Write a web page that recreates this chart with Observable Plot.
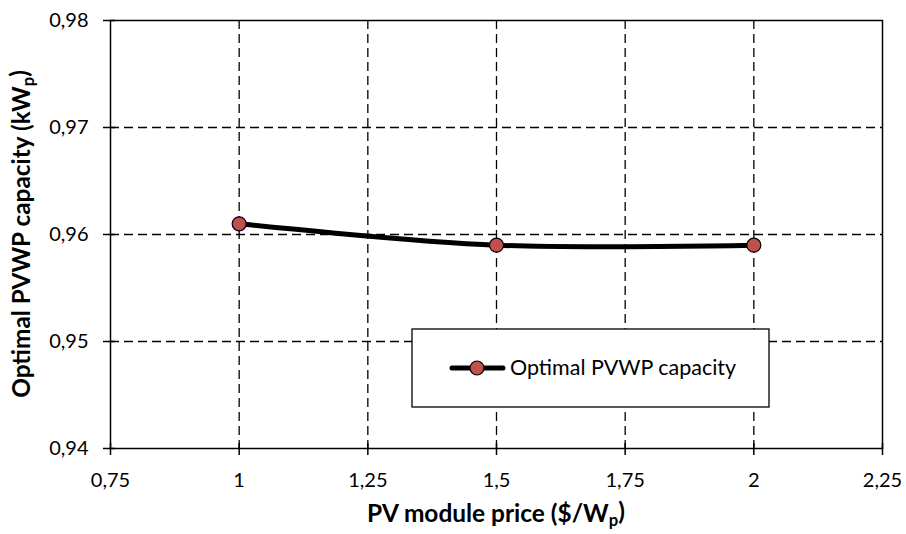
<!DOCTYPE html>
<html><head><meta charset="utf-8">
<script src="https://cdn.jsdelivr.net/npm/d3@7"></script>
<script src="https://cdn.jsdelivr.net/npm/@observablehq/plot@0.6"></script>
<style>
body{margin:0;background:#fff;font-family:Lato,"Open Sans",sans-serif;}
#chart svg{display:block;}
</style>
</head><body><div id="chart"></div>
<script>
const prices = [1, 1.5, 2];
const capacity = [0.961, 0.959, 0.959];
const xTicks = [0.75, 1, 1.25, 1.5, 1.75, 2, 2.25];
const yTicks = [0.94, 0.95, 0.96, 0.97, 0.98];
const seriesName = "Optimal PVWP capacity";
const xTitle = ["PV module price ($/W", "p", ")"];
const yTitle = ["Optimal PVWP capacity (kW", "p", ")"];

const data = prices.map((p, i) => ({x: p, y: capacity[i]}));
const fmt = d => String(d).replace(".", ",");
const innerX = xTicks.slice(1, -1);
const innerY = yTicks.slice(1, -1);

const W = 906, H = 534;
const mL = 110, mR = 24, mT = 20, mB = 86;
const iW = W - mL - mR, iH = H - mT - mB;

const plot = Plot.plot({
  width: W, height: H,
  marginLeft: mL, marginRight: mR, marginTop: mT, marginBottom: mB,
  style: {fontFamily: "Lato, 'Open Sans', sans-serif", fontSize: "20px", color: "#000", background: "#fff"},
  x: {domain: [0.75, 2.25], ticks: xTicks, tickFormat: fmt, label: null},
  y: {domain: [0.94, 0.98], ticks: yTicks, tickFormat: fmt, label: null},
  marks: [
    Plot.ruleX(innerX, {stroke: "#000", strokeWidth: 1.3, strokeDasharray: "9,5"}),
    Plot.ruleY(innerY, {stroke: "#000", strokeWidth: 1.3, strokeDasharray: "9,5"}),
    Plot.frame({stroke: "#000", strokeWidth: 1.5}),
    Plot.tickX(xTicks, {x: d => d, insetTop: iH - 5, stroke: "#000", strokeWidth: 1.5}),
    Plot.tickY(yTicks, {y: d => d, insetRight: iW - 5, stroke: "#000", strokeWidth: 1.5}),
    Plot.axisX({ticks: xTicks, tickFormat: fmt, tickSize: 7, tickPadding: 17, stroke: "#000", strokeWidth: 1.5, label: null}),
    Plot.axisY({ticks: yTicks, tickFormat: fmt, tickSize: 7, tickPadding: 15, stroke: "#000", strokeWidth: 1.5, label: null}),
    Plot.line(data, {x: "x", y: "y", stroke: "#000", strokeWidth: 5, curve: "catmull-rom"}),
    Plot.dot(data, {x: "x", y: "y", r: 7, fill: "#c0504d", stroke: "#000", strokeWidth: 1.2})
  ]
});
document.getElementById("chart").appendChild(plot);

const svg = d3.select(plot);

function richText(parent, parts, bold) {
  const t = parent.append("text").attr("text-anchor", "middle").attr("fill", "#000")
    .attr("font-weight", bold ? "bold" : "normal");
  t.append("tspan").attr("class", "b").text(parts[0]);
  t.append("tspan").attr("class", "s").attr("dy", "0.25em").text(parts[1]);
  t.append("tspan").attr("class", "b").attr("dy", "-0.25em").text(parts[2]);
  return t;
}
function setSize(t, fs) {
  t.attr("font-size", fs);
  t.selectAll("tspan.s").attr("font-size", fs * 0.68);
}
function fitWidth(t, target, fs0) {
  setSize(t, fs0);
  const w = t.node().getBBox().width;
  setSize(t, fs0 * target / w);
}

// x axis title (centered on plot area)
const xt = richText(svg.append("g").attr("transform", `translate(${mL + iW / 2},522)`), xTitle, true);
fitWidth(xt, 258, 20);
// y axis title
const yt = richText(svg.append("g").attr("transform", `translate(30,${mT + iH / 2}) rotate(-90)`), yTitle, true);
fitWidth(yt, 328, 20);

// legend
const lg = svg.append("g");
lg.append("rect").attr("x", 412).attr("y", 329).attr("width", 357).attr("height", 78)
  .attr("fill", "#fff").attr("stroke", "#000").attr("stroke-width", 1.3);
lg.append("line").attr("x1", 452).attr("x2", 503).attr("y1", 368).attr("y2", 368)
  .attr("stroke", "#000").attr("stroke-width", 5).attr("stroke-linecap", "round");
lg.append("circle").attr("cx", 477).attr("cy", 368).attr("r", 7)
  .attr("fill", "#c0504d").attr("stroke", "#000").attr("stroke-width", 1.2);
const lt = lg.append("text").attr("x", 510).attr("y", 375).attr("text-anchor", "start")
  .attr("fill", "#000").text(seriesName);
lt.attr("font-size", 20);
lt.attr("font-size", 20 * 227 / lt.node().getBBox().width);
</script>
</body></html>
